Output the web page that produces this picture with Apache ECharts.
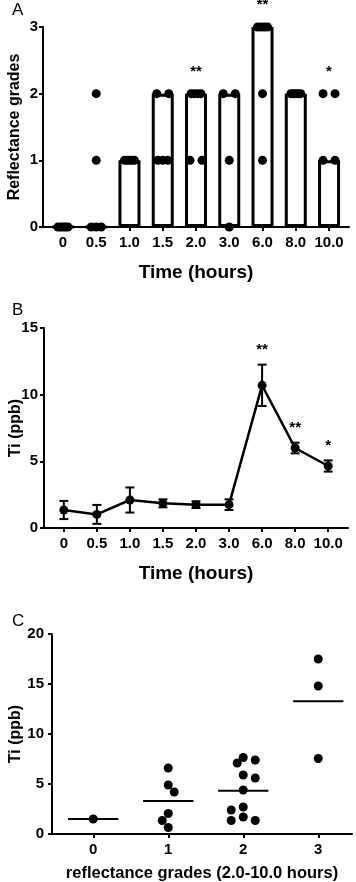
<!DOCTYPE html>
<html>
	<head>
		<meta charset="utf-8">
		<title>Reflectance and Ti</title>
		<style>
			html, body {margin: 0; padding: 0; background: #fff;}
			#main {width: 356px; height: 882px;}
		</style>
	</head>
	<body>
		<div id="main"></div>
		<script src="https://cdn.jsdelivr.net/npm/echarts@6.0.0/dist/echarts.min.js"></script>
		<script type="text/javascript">
			// data
			var timeCats = ['0', '0.5', '1.0', '1.5', '2.0', '3.0', '6.0', '8.0', '10.0'];
			var gradeBars = [0, 0, 1, 2, 2, 2, 3, 2, 1];
			var gradeDots = [
				[0, 0, 0, 0, 0],
				[2, 1, 0, 0, 0],
				[1, 1, 1, 1, 1],
				[2, 2, 1, 1, 1],
				[2, 2, 2, 2, 1, 1],
				[2, 2, 1, 0],
				[3, 3, 3, 3, 2, 1],
				[2, 2, 2, 2, 2],
				[2, 2, 1, 1]
			];
			var gradeSig = ['', '', '', '', '**', '', '**', '', '*'];
			var tiMean = [1.35, 1.02, 2.1, 1.85, 1.75, 1.75, 10.7, 6.0, 4.65];
			var tiErr = [0.68, 0.71, 0.94, 0.3, 0.25, 0.4, 1.55, 0.4, 0.42];
			var tiSig = ['', '', '', '', '', '', '**', '**', '*'];
			var gradeCats = ['0', '1', '2', '3'];
			var tiByGrade = [
				[1.5],
				[6.6, 4.9, 4.2, 2.05, 1.35, 0.65],
				[7.65, 7.4, 7.1, 5.9, 5.6, 4.4, 2.7, 2.4, 1.7, 1.35, 1.35],
				[17.5, 14.8, 7.55]
			];

			var FONT = '"Liberation Sans", Arial, Helvetica, sans-serif';
			var W = 356;
			// grids (no auto shrinking, positions follow the figure)
			var gA = {left: 43, right: 7, top: 27, height: 200, outerBoundsMode: 'none', containLabel: false};
			var gB = {left: 44, right: 8, top: 328, height: 200, outerBoundsMode: 'none', containLabel: false};
			var gC = {left: 52, right: 4, top: 634, height: 200, outerBoundsMode: 'none', containLabel: false};
			var xMinT = -0.6, xMaxT = 8.6;
			var pxPerCatA = (W - gA.left - gA.right) / (xMaxT - xMinT);
			var pxPerUnitC = (W - gC.left - gC.right) / 4;

			// dots sitting on the same grade are spread side by side
			function spreadRow(vals) {
				var counts = {}, seen = {}, out = [];
				vals.forEach(function(v){ counts[v] = (counts[v] || 0) + 1; });
				vals.forEach(function(v){
					var n = counts[v], j = seen[v] || 0;
					seen[v] = j + 1;
					var span = n === 1 ? 0 : (n === 2 ? 12 : 10);
					out.push(n === 1 ? 0 : (j / (n - 1) - 0.5) * span);
				});
				return out;
			}

			// simple beeswarm in pixels for panel C
			function swarm(vals, pxY, step, diam) {
				var placed = [], out = [], pref = 1;
				vals.forEach(function(v){
					var y = v * pxY;
					for (var k = 0; k < 40; k++) {
						var c = k === 0 ? 0 : (k % 2 ? pref : -pref) * Math.ceil(k / 2) * step;
						var ok = placed.every(function(p){
							var dx = p[0] - c, dy = p[1] - y;
							return dx * dx + dy * dy >= diam * diam - 0.01;
						});
						if (ok) {
							placed.push([c, y]);
							out.push(c);
							if (c !== 0) pref = -pref;
							break;
						}
					}
				});
				return out;
			}

			var dotsA = [];
			gradeDots.forEach(function(vals, i){
				var offs = spreadRow(vals);
				vals.forEach(function(v, j){ dotsA.push([i + offs[j] / pxPerCatA, v]); });
			});
			var barsA = gradeBars.map(function(v, i){ return [i, v]; });
			var sigA = [];
			gradeSig.forEach(function(s, i){
				if (s) sigA.push([i, Math.max.apply(null, gradeDots[i]), s]);
			});

			var lineB = tiMean.map(function(v, i){ return [i, v]; });
			var errB = tiMean.map(function(v, i){ return [i, v - tiErr[i], v + tiErr[i]]; });
			var sigB = [];
			tiSig.forEach(function(s, i){
				if (s) sigB.push([i, tiMean[i] + tiErr[i], s]);
			});

			var dotsC = [], meansC = [];
			tiByGrade.forEach(function(vals, i){
				var offs = swarm(vals, 200 / 20, 6, 8);
				vals.forEach(function(v, j){ dotsC.push([i + offs[j] / pxPerUnitC, v]); });
				var sum = vals.reduce(function(a, b){ return a + b; }, 0);
				meansC.push([i, sum / vals.length]);
			});

			function axisLabelStyle(margin) {
				return {color: '#000', fontFamily: FONT, fontWeight: 'bold', fontSize: 15, margin: margin};
			}
			var axisLineStyle = {show: true, onZero: false, lineStyle: {color: '#000', width: 2}};
			var tickStyle = {show: true, length: 4, lineStyle: {color: '#000', width: 2}};

			function timeAxis(grid, name) {
				return {
					type: 'value', gridIndex: grid, min: xMinT, max: xMaxT,
					splitLine: {show: false},
					axisLine: axisLineStyle,
					axisTick: {show: true, length: 4, lineStyle: {color: '#000', width: 2}, customValues: [0, 1, 2, 3, 4, 5, 6, 7, 8]},
					axisLabel: Object.assign(axisLabelStyle(8), {
						customValues: [0, 1, 2, 3, 4, 5, 6, 7, 8],
						formatter: function(v){ return timeCats[Math.round(v)]; }
					}),
					name: name, nameLocation: 'middle', nameGap: 36, nameMoveOverlap: false,
					nameTextStyle: {color: '#000', fontFamily: FONT, fontWeight: 'bold', fontSize: 19}
				};
			}

			function valueAxis(grid, max, interval, name, gap, margin) {
				return {
					type: 'value', gridIndex: grid, min: 0, max: max, interval: interval,
					splitLine: {show: false},
					axisLine: axisLineStyle,
					axisTick: tickStyle,
					axisLabel: axisLabelStyle(margin),
					name: name, nameLocation: 'middle', nameGap: gap, nameMoveOverlap: false,
					nameTextStyle: {color: '#000', fontFamily: FONT, fontWeight: 'bold', fontSize: 16}
				};
			}

			function starItem(lift) {
				return function(params, api) {
					var p = api.coord([api.value(0), api.value(1)]);
					return {
						type: 'text', x: p[0], y: p[1] - lift,
						style: {text: api.value(2), fill: '#000', font: 'bold 15px ' + FONT,
							align: 'center', verticalAlign: 'middle', textAlign: 'center', textVerticalAlign: 'middle'}
					};
				};
			}

			var myChart = echarts.init(document.getElementById('main'), null, {renderer: 'canvas'});
			var option = {
				animation: false,
				backgroundColor: '#fff',
				graphic: [
					{type: 'text', left: 12, top: 2, style: {text: 'A', font: '17px ' + FONT, fill: '#000'}},
					{type: 'text', left: 12, top: 302, style: {text: 'B', font: '17px ' + FONT, fill: '#000'}},
					{type: 'text', left: 12, top: 613, style: {text: 'C', font: '17px ' + FONT, fill: '#000'}}
				],
				grid: [gA, gB, gC],
				xAxis: [
					timeAxis(0, 'Time (hours)'),
					timeAxis(1, 'Time (hours)'),
					{
						type: 'value', gridIndex: 2, min: -0.55, max: 3.45,
						splitLine: {show: false},
						axisLine: axisLineStyle,
						axisTick: {show: true, length: 4, lineStyle: {color: '#000', width: 2}, customValues: [0, 1, 2, 3]},
						axisLabel: Object.assign(axisLabelStyle(8), {
							customValues: [0, 1, 2, 3],
							formatter: function(v){ return gradeCats[Math.round(v)]; }
						}),
						name: 'reflectance grades (2.0-10.0 hours)', nameLocation: 'middle', nameGap: 31, nameMoveOverlap: false,
						nameTextStyle: {color: '#000', fontFamily: FONT, fontWeight: 'bold', fontSize: 16.5}
					}
				],
				yAxis: [
					valueAxis(0, 3, 1, 'Reflectance grades', 20, 5),
					valueAxis(1, 15, 5, 'Ti (ppb)', 20, 6),
					valueAxis(2, 20, 5, 'Ti (ppb)', 28, 8)
				],
				series: [
					{
						type: 'bar', xAxisIndex: 0, yAxisIndex: 0, data: barsA, barWidth: 22,
						itemStyle: {color: '#fff', borderColor: '#000', borderWidth: 3}
					},
					{
						type: 'scatter', xAxisIndex: 0, yAxisIndex: 0, data: dotsA,
						symbol: 'circle', symbolSize: 9, itemStyle: {color: '#000', opacity: 1}, z: 5
					},
					{
						type: 'custom', xAxisIndex: 0, yAxisIndex: 0, data: sigA, renderItem: starItem(22), z: 6
					},
					{
						type: 'custom', xAxisIndex: 1, yAxisIndex: 1, data: errB, z: 3,
						renderItem: function(params, api) {
							var x = api.value(0);
							var lo = api.coord([x, api.value(1)]);
							var hi = api.coord([x, api.value(2)]);
							var cap = 4.5;
							var st = {stroke: '#000', lineWidth: 2};
							return {
								type: 'group',
								children: [
									{type: 'line', shape: {x1: lo[0], y1: lo[1], x2: hi[0], y2: hi[1]}, style: st},
									{type: 'line', shape: {x1: hi[0] - cap, y1: hi[1], x2: hi[0] + cap, y2: hi[1]}, style: st},
									{type: 'line', shape: {x1: lo[0] - cap, y1: lo[1], x2: lo[0] + cap, y2: lo[1]}, style: st}
								]
							};
						}
					},
					{
						type: 'line', xAxisIndex: 1, yAxisIndex: 1, data: lineB, z: 4,
						symbol: 'circle', symbolSize: 9, showSymbol: true,
						lineStyle: {color: '#000', width: 2.5},
						itemStyle: {color: '#000'}
					},
					{
						type: 'custom', xAxisIndex: 1, yAxisIndex: 1, data: sigB, renderItem: starItem(15), z: 6
					},
					{
						type: 'scatter', xAxisIndex: 2, yAxisIndex: 2, data: dotsC,
						symbol: 'circle', symbolSize: 9, itemStyle: {color: '#000', opacity: 1}
					},
					{
						type: 'custom', xAxisIndex: 2, yAxisIndex: 2, data: meansC,
						renderItem: function(params, api) {
							var x = api.value(0), y = api.value(1);
							var a = api.coord([x - 0.335, y]);
							var b = api.coord([x + 0.335, y]);
							return {type: 'line', shape: {x1: a[0], y1: a[1], x2: b[0], y2: b[1]}, style: {stroke: '#000', lineWidth: 2}};
						}
					}
				]
			};
			myChart.setOption(option);
		</script>
	</body>
</html>
